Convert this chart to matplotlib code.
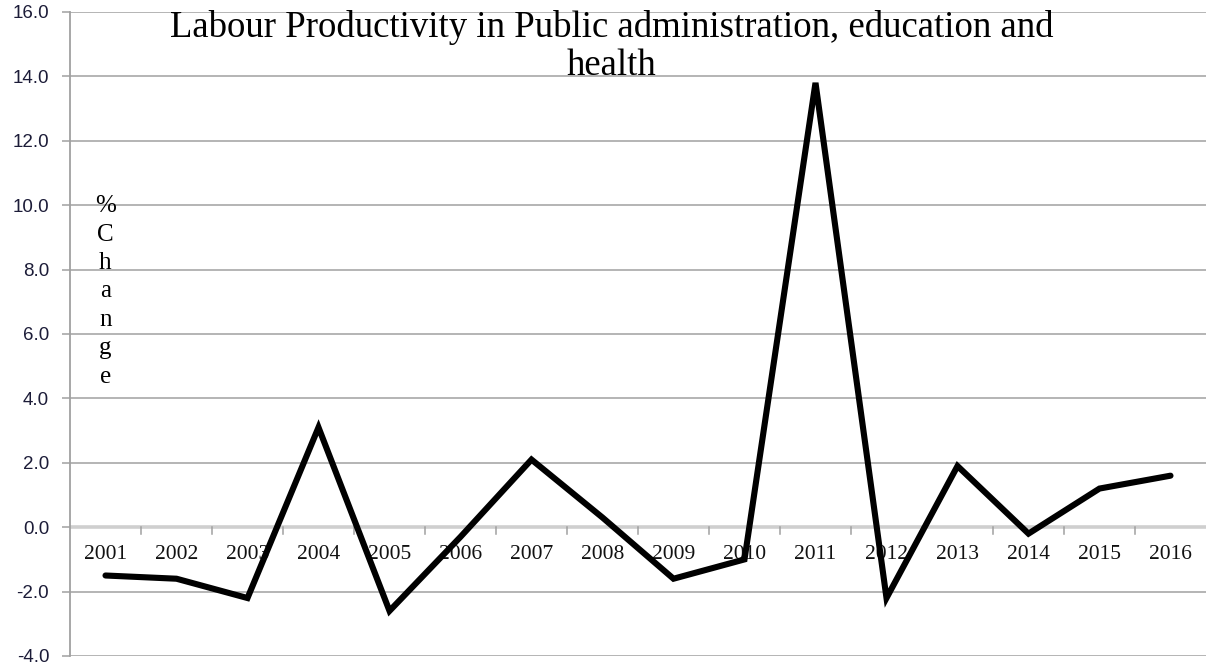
import numpy as np
import matplotlib.pyplot as plt

# values (% change per year)
years = ['2001', '2002', '2003', '2004', '2005', '2006', '2007', '2008',
         '2009', '2010', '2011', '2012', '2013', '2014', '2015', '2016']
pct_change = [-1.5, -1.6, -2.2, 3.1, -2.6, -0.3, 2.1, 0.3,
              -1.6, -1.0, 13.8, -2.2, 1.9, -0.2, 1.2, 1.6]
y_ticks = [-4, -2, 0, 2, 4, 6, 8, 10, 12, 14, 16]

title_txt = 'Labour Productivity in Public administration, education and\nhealth'
ylabel_txt = '%\nC\nh\na\nn\ng\ne'

grid_col = '#a0a0a0'
serif = ['Liberation Serif', 'DejaVu Serif']

fig = plt.figure(figsize=(12.06, 6.69), dpi=100)
ax = fig.add_axes([70 / 1206, 13 / 669, 1 - 70 / 1206, 644 / 669])

x = np.arange(len(years))
ax.plot(x, pct_change, color='black', lw=4.4, solid_joinstyle='miter',
        solid_capstyle='round', zorder=5)

ax.set_xlim(-0.5, len(years) - 0.5)
ax.set_ylim(-4, 16)

# horizontal gridlines
ax.set_yticks(y_ticks)
ax.set_yticklabels([f'{v:.1f}' for v in y_ticks], family='Liberation Sans',
                   fontsize=13.5, color='#1c1c38')
ax.yaxis.grid(True, color=grid_col, lw=1.1)
ax.set_axisbelow(True)
ax.tick_params(axis='y', length=6, width=1.1, color=grid_col, pad=9)

# category axis sits on zero
ax.set_xticks([])
ax.axhline(0, color='#cfcfcf', lw=2.6, zorder=2)
for b in np.arange(0.5, len(years) - 1, 1.0):
    ax.plot([b, b], [0, -0.2], color=grid_col, lw=1.1, zorder=2, clip_on=False)
for xi, lab in zip(x, years):
    ax.text(xi, -0.84, lab, ha='center', va='center', fontsize=15.5,
            family=serif, color='#111111', zorder=3)

for s in ['top', 'right', 'bottom']:
    ax.spines[s].set_visible(False)
ax.spines['left'].set_color(grid_col)
ax.spines['left'].set_linewidth(1.3)

# title, partly off the top like the source
fig.text(0.507, 0.931, title_txt, ha='center', va='center', fontsize=26.5,
         family=serif, linespacing=1.12)

# stacked y label
ax.text(0.031, 0.566, ylabel_txt, transform=ax.transAxes, ha='center',
        va='center', fontsize=18, family=serif, linespacing=1.38)

fig.savefig('out.png', dpi=100)
